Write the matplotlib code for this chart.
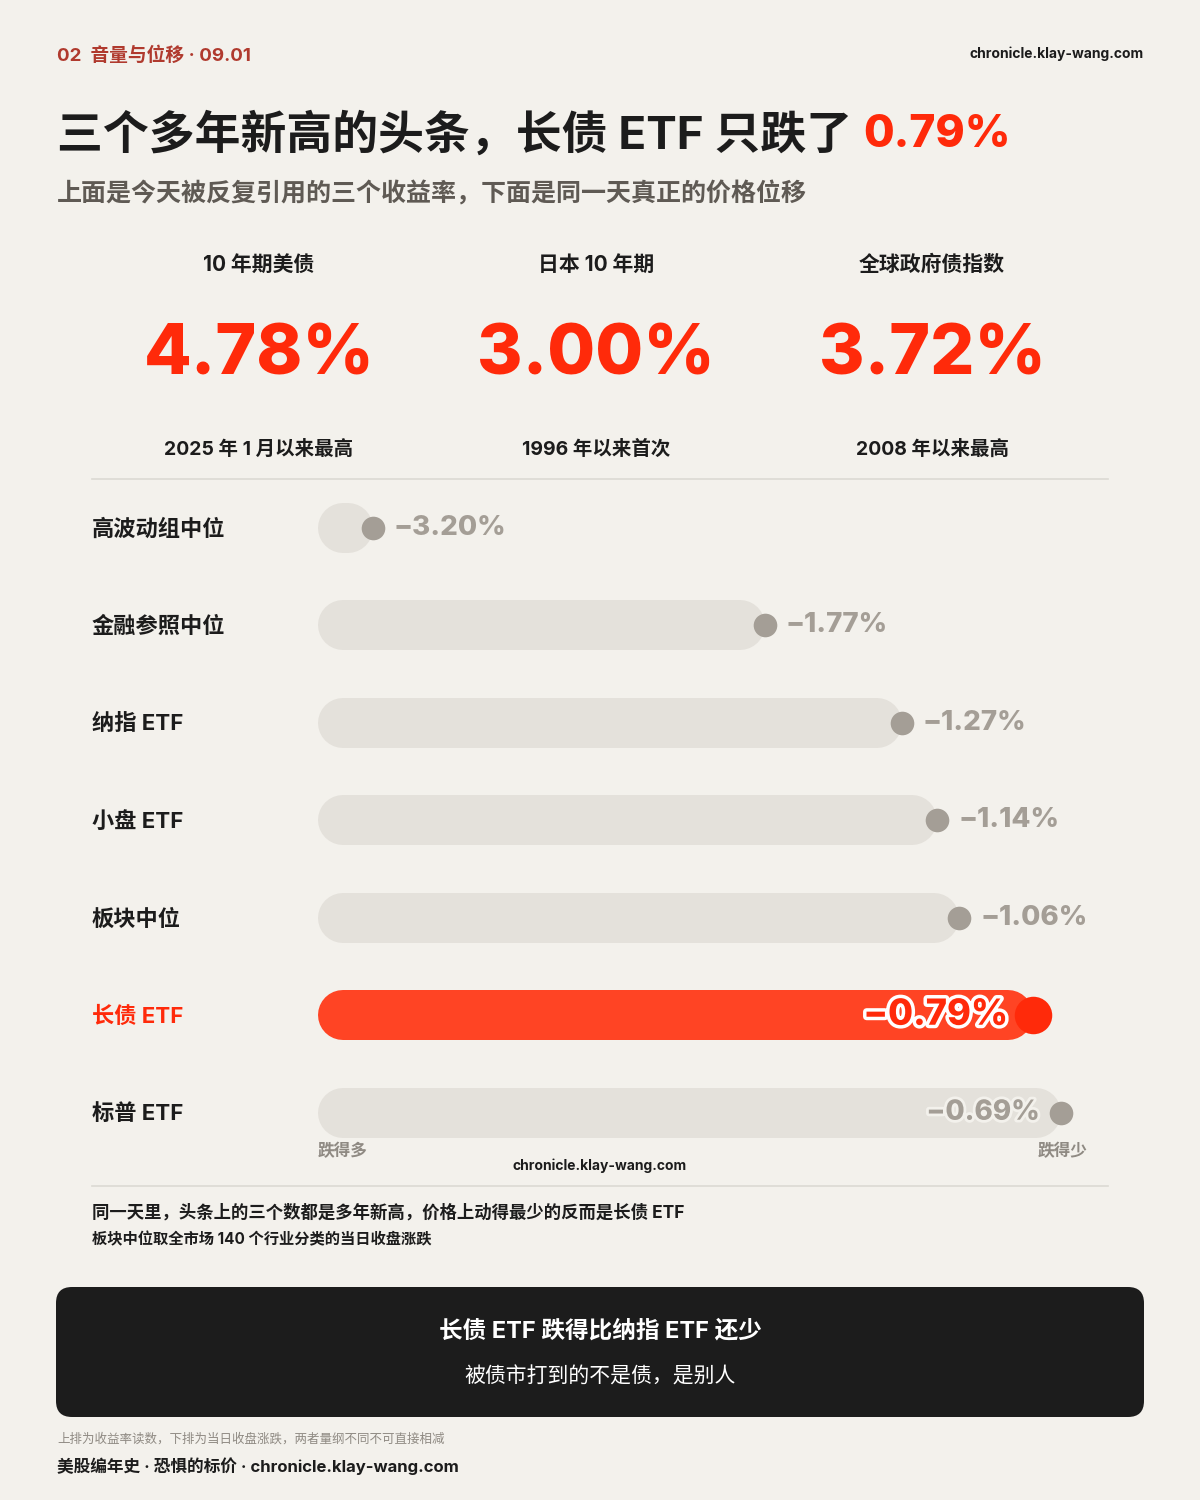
import matplotlib
matplotlib.use("Agg")
import matplotlib.pyplot as plt
from matplotlib import patheffects as pe
from matplotlib.patches import FancyBboxPatch

plt.rcParams["font.family"] = ["Inter", "Noto Sans CJK SC", "DejaVu Sans"]

# ---- data ----
kpi_titles = ["10 年期美债", "日本 10 年期", "全球政府债指数"]
kpi_values = [4.78, 3.00, 3.72]
kpi_notes = ["2025 年 1 月以来最高", "1996 年以来首次", "2008 年以来最高"]

row_labels = ["高波动组中位", "金融参照中位", "纳指 ETF", "小盘 ETF", "板块中位", "长债 ETF", "标普 ETF"]
row_changes = [-3.20, -1.77, -1.27, -1.14, -1.06, -0.79, -0.69]
highlight = "长债 ETF"

BG = "#f3f1ec"
RED = "#ff2a0a"
BAR_RED = "#ff4424"
GRAY_BAR = "#e4e1db"
GRAY_DOT = "#a49e96"
DARK = "#1c1c1c"
RULE = "#dcd9d3"

W, H = 1200, 1500
fig = plt.figure(figsize=(12, 15), dpi=100, facecolor=BG)

# full-figure layer in pixel units for the text blocks
bg = fig.add_axes([0, 0, 1, 1])
bg.set_xlim(0, W)
bg.set_ylim(H, 0)
bg.axis("off")
bg.patch.set_alpha(0)

bg.text(57, 56, "02  音量与位移 · 09.01", color="#b03a2e", fontsize=13.5,
        fontweight="bold", va="center", ha="left")
bg.text(1144, 54, "chronicle.klay-wang.com", color=DARK, fontsize=10,
        fontweight="bold", va="center", ha="right")

t1 = bg.text(57, 135, "三个多年新高的头条，长债 ETF 只跌了 ", color=DARK, fontsize=33,
             fontweight="bold", va="center", ha="left")
bg.annotate("0.79%", xy=(1, 0.5), xycoords=t1, va="center", ha="left",
            color=RED, fontsize=32, fontweight="heavy")
bg.text(57, 194, "上面是今天被反复引用的三个收益率，下面是同一天真正的价格位移",
        color="#5f5a54", fontsize=18, fontweight="bold", va="center", ha="left")

kpi_x = [259, 596, 932]
for x, title, val, note in zip(kpi_x, kpi_titles, kpi_values, kpi_notes):
    bg.text(x, 265, title, color=DARK, fontsize=15, fontweight="bold",
            ha="center", va="center")
    bg.text(x, 356, f"{val:.2f}%", color=RED, fontsize=50, fontweight="heavy",
            ha="center", va="center")
    bg.text(x, 449, note, color=DARK, fontsize=14, fontweight="bold",
            ha="center", va="center")

bg.plot([92, 1108], [479, 479], color=RULE, lw=1.2)
bg.plot([92, 1108], [1186, 1186], color=RULE, lw=1.2)

# ---- bar chart ----
AX_L, AX_R, AX_T, AX_B = 318, 1088, 490, 1140
XMIN, XMAX = -3.40, -0.59
ax = fig.add_axes([AX_L / W, 1 - AX_B / H, (AX_R - AX_L) / W, (AX_B - AX_T) / H])
ax.set_xlim(XMIN, XMAX)
ax.set_ylim(6.28, -0.39)
ax.axis("off")
ax.patch.set_alpha(0)

px_per_unit = (AX_R - AX_L) / (XMAX - XMIN)
cap = 25 / px_per_unit  # half bar height in data units, for round caps
bar_lw = 50 * 72 / 100

for i, (lab, v) in enumerate(zip(row_labels, row_changes)):
    hot = lab == highlight
    start = XMIN + cap
    end = max(start, v - cap)
    ax.plot([start, end], [i, i], color=BAR_RED if hot else GRAY_BAR,
            lw=bar_lw, solid_capstyle="round", zorder=1)
    ax.plot(v, i, "o", ms=27 if hot else 17, color=RED if hot else GRAY_DOT,
            mec="none", zorder=3)

    y_px = AX_T + (i + 0.39) / 6.67 * (AX_B - AX_T)
    bg.text(92, y_px + 1, lab, color=RED if hot else DARK, fontsize=16,
            fontweight="bold", ha="left", va="center")

    txt = f"−{abs(v):.2f}%"
    if v > -1.0:
        if hot:
            ax.annotate(txt, xy=(v, i), xytext=(-18, 0), textcoords="offset points",
                        ha="right", va="center", fontsize=26, fontweight="heavy",
                        color=RED, zorder=4,
                        path_effects=[pe.withStroke(linewidth=5, foreground="white")])
        else:
            ax.annotate(txt, xy=(v, i), xytext=(-15, 0), textcoords="offset points",
                        ha="right", va="center", fontsize=20, fontweight="heavy",
                        color=GRAY_DOT, zorder=4,
                        path_effects=[pe.withStroke(linewidth=4, foreground=BG)])
    else:
        ax.annotate(txt, xy=(v, i), xytext=(15, 0), textcoords="offset points",
                    ha="left", va="center", fontsize=20, fontweight="heavy",
                    color=GRAY_DOT, zorder=4)

bg.text(318, 1151, "跌得多", color="#8f8a83", fontsize=12, fontweight="bold",
        ha="left", va="center")
bg.text(1088, 1151, "跌得少", color="#8f8a83", fontsize=12, fontweight="bold",
        ha="right", va="center")
bg.text(600, 1166, "chronicle.klay-wang.com", color=DARK, fontsize=10,
        fontweight="bold", ha="center", va="center")

# ---- notes ----
bg.text(92, 1213, "同一天里，头条上的三个数都是多年新高，价格上动得最少的反而是长债 ETF",
        color=DARK, fontsize=12.5, fontweight="bold", ha="left", va="center")
bg.text(92, 1240, "板块中位取全市场 140 个行业分类的当日收盘涨跌",
        color=DARK, fontsize=11, fontweight="bold", ha="left", va="center")

box = FancyBboxPatch((56, 1287), 1088, 130, boxstyle="round,pad=0,rounding_size=16",
                     fc="#1c1c1c", ec="none")
bg.add_patch(box)
bg.text(600, 1331, "长债 ETF 跌得比纳指 ETF 还少", color="white", fontsize=17,
        fontweight="bold", ha="center", va="center")
bg.text(600, 1376, "被债市打到的不是债，是别人", color="white", fontsize=15,
        ha="center", va="center")

bg.text(57, 1439, "上排为收益率读数，下排为当日收盘涨跌，两者量纲不同不可直接相减",
        color="#8f8a83", fontsize=9, ha="left", va="center")
bg.text(57, 1466, "美股编年史 · 恐惧的标价 · chronicle.klay-wang.com", color=DARK,
        fontsize=12, fontweight="bold", ha="left", va="center")

fig.savefig("out.png", dpi=100, facecolor=BG)
